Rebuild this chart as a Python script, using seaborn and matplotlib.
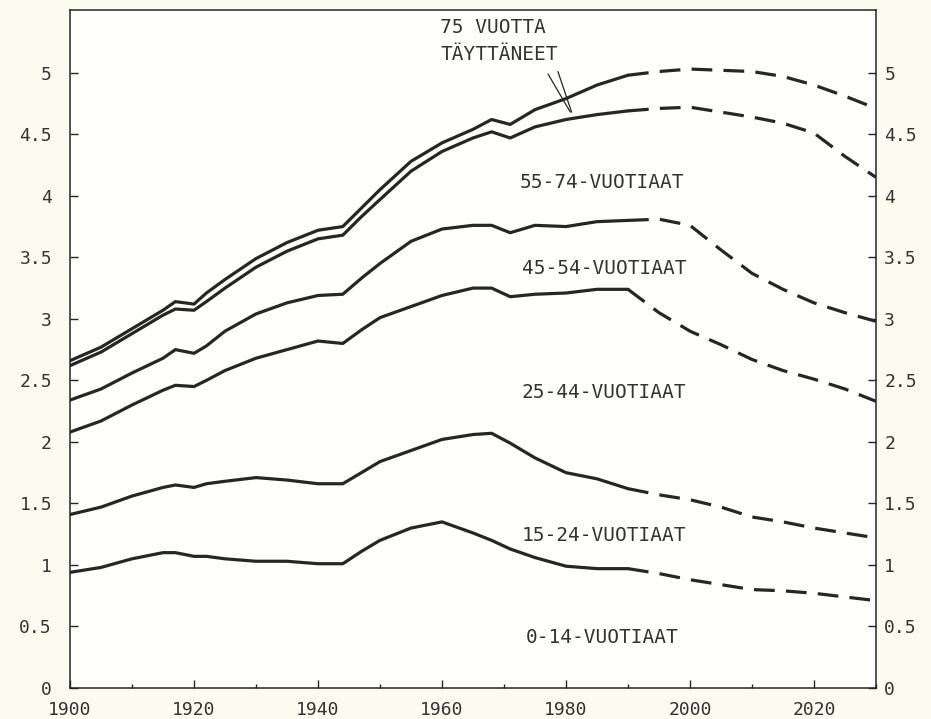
import matplotlib
matplotlib.use("Agg")
import matplotlib.pyplot as plt
import seaborn as sns
from matplotlib.ticker import MultipleLocator, FuncFormatter, FixedLocator

# Suomen väestö ikäryhmittäin, kumulatiivisesti (milj. henkeä)
years_obs = [1900, 1905, 1910, 1915, 1917, 1920, 1922, 1925, 1930, 1935, 1940, 1944,
             1947, 1950, 1955, 1960, 1965, 1968, 1971, 1975, 1980, 1985, 1990]
years_proj = [1990, 1995, 2000, 2005, 2010, 2015, 2020, 2025, 2030]

# toteutunut kehitys
upto_14_obs = [0.94, 0.98, 1.05, 1.10, 1.10, 1.07, 1.07, 1.05, 1.03, 1.03, 1.01, 1.01,
               1.11, 1.20, 1.30, 1.35, 1.26, 1.20, 1.13, 1.06, 0.99, 0.97, 0.97]
upto_24_obs = [1.41, 1.47, 1.56, 1.63, 1.65, 1.63, 1.66, 1.68, 1.71, 1.69, 1.66, 1.66,
               1.75, 1.84, 1.93, 2.02, 2.06, 2.07, 1.99, 1.87, 1.75, 1.70, 1.62]
upto_44_obs = [2.08, 2.17, 2.30, 2.42, 2.46, 2.45, 2.50, 2.58, 2.68, 2.75, 2.82, 2.80,
               2.91, 3.01, 3.10, 3.19, 3.25, 3.25, 3.18, 3.20, 3.21, 3.24, 3.24]
upto_54_obs = [2.34, 2.43, 2.56, 2.68, 2.75, 2.72, 2.78, 2.90, 3.04, 3.13, 3.19, 3.20,
               3.33, 3.45, 3.63, 3.73, 3.76, 3.76, 3.70, 3.76, 3.75, 3.79, 3.80]
upto_74_obs = [2.62, 2.73, 2.88, 3.03, 3.08, 3.07, 3.14, 3.25, 3.42, 3.55, 3.65, 3.68,
               3.83, 3.97, 4.20, 4.36, 4.47, 4.52, 4.47, 4.56, 4.62, 4.66, 4.69]
total_obs = [2.66, 2.77, 2.92, 3.07, 3.14, 3.12, 3.21, 3.32, 3.49, 3.62, 3.72, 3.75,
             3.90, 4.05, 4.28, 4.43, 4.54, 4.62, 4.58, 4.70, 4.79, 4.90, 4.98]

# ennuste
upto_14_proj = [0.97, 0.93, 0.88, 0.84, 0.80, 0.79, 0.77, 0.74, 0.71]
upto_24_proj = [1.62, 1.57, 1.53, 1.47, 1.39, 1.35, 1.30, 1.26, 1.22]
upto_44_proj = [3.24, 3.05, 2.90, 2.79, 2.67, 2.58, 2.51, 2.43, 2.33]
upto_54_proj = [3.80, 3.81, 3.76, 3.56, 3.37, 3.24, 3.13, 3.05, 2.98]
upto_74_proj = [4.69, 4.71, 4.72, 4.68, 4.64, 4.59, 4.51, 4.32, 4.15]
total_proj = [4.98, 5.01, 5.03, 5.02, 5.01, 4.97, 4.90, 4.81, 4.71]

y_ticks = [0, 0.5, 1, 1.5, 2, 2.5, 3, 3.5, 4, 4.5, 5]

group_labels = ["0-14-VUOTIAAT", "15-24-VUOTIAAT", "25-44-VUOTIAAT",
                "45-54-VUOTIAAT", "55-74-VUOTIAAT"]
top_label = ["75 VUOTTA", "TÄYTTÄNEET"]

obs_series = [upto_14_obs, upto_24_obs, upto_44_obs, upto_54_obs, upto_74_obs, total_obs]
proj_series = [upto_14_proj, upto_24_proj, upto_44_proj, upto_54_proj, upto_74_proj, total_proj]

sns.set_style("ticks")
plt.rcParams["font.family"] = ["DejaVu Sans Mono", "DejaVu Sans"]

INK = "#262626"
TEXT = "#333333"

fig = plt.figure(figsize=(9.31, 7.19), dpi=100, facecolor="#fbfbef")
ax = fig.add_axes([0.0752, 0.0431, 0.8657, 0.9430])
ax.set_facecolor("#fefefa")

for vals in obs_series:
    sns.lineplot(x=years_obs, y=vals, ax=ax, color=INK, lw=2.3,
                 solid_capstyle="round", solid_joinstyle="round")
for vals in proj_series:
    sns.lineplot(x=years_proj, y=vals, ax=ax, color=INK, lw=2.3)
    proj_line = ax.lines[-1]
    proj_line.set_dashes((6.5, 3.5))
    proj_line.set_dash_capstyle("butt")

ax.set_xlim(1900, 2030)
ax.set_ylim(0, 5.51)
ax.set_xlabel("")
ax.set_ylabel("")

for side in ["left", "right", "top", "bottom"]:
    ax.spines[side].set_visible(True)
    ax.spines[side].set_linewidth(1.1)
    ax.spines[side].set_color(INK)

fmt = FuncFormatter(lambda v, p: f"{v:g}")
ax.xaxis.set_major_locator(MultipleLocator(20))
ax.xaxis.set_minor_locator(MultipleLocator(10))
ax.yaxis.set_major_locator(FixedLocator(y_ticks))
ax.yaxis.set_major_formatter(fmt)
ax.tick_params(axis="x", which="major", direction="in", length=6, width=1.0,
               color=INK, labelsize=13, labelcolor=TEXT, pad=9, top=False)
ax.tick_params(axis="x", which="minor", direction="in", length=3, width=1.0,
               color=INK, top=False)
ax.tick_params(axis="y", which="major", direction="in", length=6, width=1.0,
               color=INK, labelsize=13, labelcolor=TEXT, pad=13)

ax_r = ax.twinx()
ax_r.set_ylim(ax.get_ylim())
ax_r.yaxis.set_major_locator(FixedLocator(y_ticks))
ax_r.yaxis.set_major_formatter(fmt)
ax_r.tick_params(axis="y", which="major", direction="in", length=6, width=1.0,
                 color=INK, labelsize=13, labelcolor=TEXT, pad=6)
for side in ["left", "right", "top", "bottom"]:
    ax_r.spines[side].set_visible(False)

# ikäryhmien nimet
label_x = [1973.5, 1972.9, 1972.9, 1972.9, 1972.6]
label_y = [0.41, 1.24, 2.40, 3.41, 4.11]
for txt, lx, ly in zip(group_labels, label_x, label_y):
    ax.text(lx, ly, txt, fontsize=14, color=TEXT, ha="left", va="center")

ax.text(1959.7, 5.37, top_label[0], fontsize=14, color=TEXT, ha="left", va="center")
ax.text(1959.7, 5.15, top_label[1], fontsize=14, color=TEXT, ha="left", va="center")

# osoitinviivat ylimpään käyrään
ax.plot([1977.1, 1980.7], [4.99, 4.68], color=INK, lw=0.9)
ax.plot([1978.7, 1980.9], [5.01, 4.68], color=INK, lw=0.9)

fig.savefig("out.png", dpi=100, facecolor=fig.get_facecolor())
